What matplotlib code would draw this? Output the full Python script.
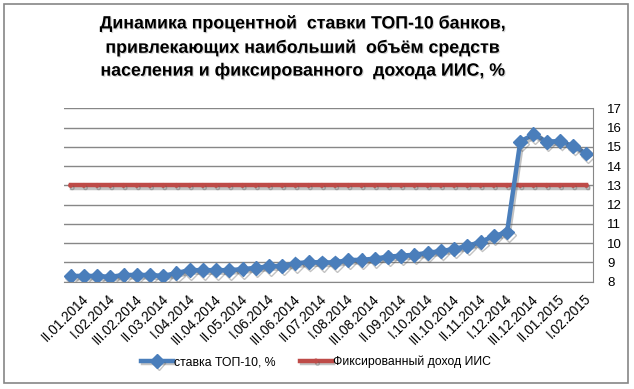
import matplotlib
matplotlib.use('Agg')
import matplotlib.pyplot as plt
import matplotlib.patheffects as pe
import matplotlib.transforms as mtransforms
from matplotlib.patches import Rectangle

# decades (I, II, III) of each month, from II.01.2014 to II.02.2015
periods = ['II.01.2014', 'III.01.2014',
           'I.02.2014', 'II.02.2014', 'III.02.2014',
           'I.03.2014', 'II.03.2014', 'III.03.2014',
           'I.04.2014', 'II.04.2014', 'III.04.2014',
           'I.05.2014', 'II.05.2014', 'III.05.2014',
           'I.06.2014', 'II.06.2014', 'III.06.2014',
           'I.07.2014', 'II.07.2014', 'III.07.2014',
           'I.08.2014', 'II.08.2014', 'III.08.2014',
           'I.09.2014', 'II.09.2014', 'III.09.2014',
           'I.10.2014', 'II.10.2014', 'III.10.2014',
           'I.11.2014', 'II.11.2014', 'III.11.2014',
           'I.12.2014', 'II.12.2014', 'III.12.2014',
           'I.01.2015', 'II.01.2015', 'III.01.2015',
           'I.02.2015', 'II.02.2015']

top10_rate = [8.3, 8.3, 8.3, 8.25, 8.35, 8.35, 8.35, 8.3, 8.45, 8.6,
              8.6, 8.6, 8.6, 8.65, 8.72, 8.8, 8.82, 8.95, 9.02, 9.0,
              9.0, 9.13, 9.13, 9.2, 9.3, 9.35, 9.4, 9.5, 9.59, 9.7,
              9.86, 10.06, 10.38, 10.56, 15.27, 15.65, 15.27, 15.3, 15.04, 14.65]

iis_income = [13] * len(periods)

yticks = list(range(8, 18))

blue = '#4A7EBB'
red = '#BE4B48'
grid_col = '#878787'

plt.rcParams['font.family'] = ['Liberation Sans', 'DejaVu Sans']

fig = plt.figure(figsize=(6.34, 3.89), dpi=100)
ax = fig.add_axes([64 / 634, 1 - 281.7 / 389, (593 - 64) / 634, (281.7 - 108.3) / 389])

x = list(range(len(periods)))
shadow = [pe.SimpleLineShadow(offset=(1.2, -1.8), shadow_color='#555555', alpha=0.35), pe.Normal()]

ax.plot(x, iis_income, color=red, lw=3.2, marker='o', ms=2.5,
        label='Фиксированный доход ИИС', path_effects=shadow, zorder=3)
ax.plot(x, top10_rate, color=blue, lw=3.2, marker='D', ms=7,
        label='ставка ТОП-10, %', path_effects=shadow, zorder=4)

ax.set_xlim(-0.5, len(periods) - 0.5)
ax.set_ylim(8, 17)
ax.set_yticks(yticks)
ax.yaxis.tick_right()
ax.tick_params(axis='y', length=0, pad=10, labelsize=9.5)
ax.yaxis.grid(True, color=grid_col, lw=1)
ax.set_axisbelow(True)

ax.set_xticks(x[::2])
ax.set_xticklabels(periods[::2], rotation=45, ha='right', va='center',
                   rotation_mode='anchor', fontsize=9.8)
ax.tick_params(axis='x', length=0, pad=0)
offset = mtransforms.ScaledTranslation(16 / 100, -15 / 100, fig.dpi_scale_trans)
for lab in ax.get_xticklabels():
    lab.set_transform(lab.get_transform() + offset)

for side in ['top', 'left']:
    ax.spines[side].set_visible(False)
for side in ['right', 'bottom']:
    ax.spines[side].set_color(grid_col)

fig.text(0.478, 1 - 47 / 389,
         'Динамика процентной  ставки ТОП-10 банков,\n'
         'привлекающих наибольший  объём средств\n'
         'населения и фиксированного  дохода ИИС, %',
         ha='center', va='center', fontsize=12.8, fontweight='bold',
         linespacing=1.45,
         path_effects=[pe.withSimplePatchShadow(offset=(0.8, -0.8), shadow_rgbFace='#aaaaaa', alpha=0.5)])

handles, labels = ax.get_legend_handles_labels()
ax.legend(handles[::-1], labels[::-1], loc='center', bbox_to_anchor=(316 / 634, 1 - 362 / 389),
          bbox_transform=fig.transFigure, ncol=2, frameon=False, fontsize=8.8,
          handlelength=2.6, columnspacing=2.0, handletextpad=0.1)

fig.patches.append(Rectangle((4 / 634, 1 - 383 / 389), 624 / 634, 379 / 389,
                             transform=fig.transFigure, fill=False,
                             edgecolor='#868686', lw=1.2))

fig.savefig('out.png', dpi=100)
